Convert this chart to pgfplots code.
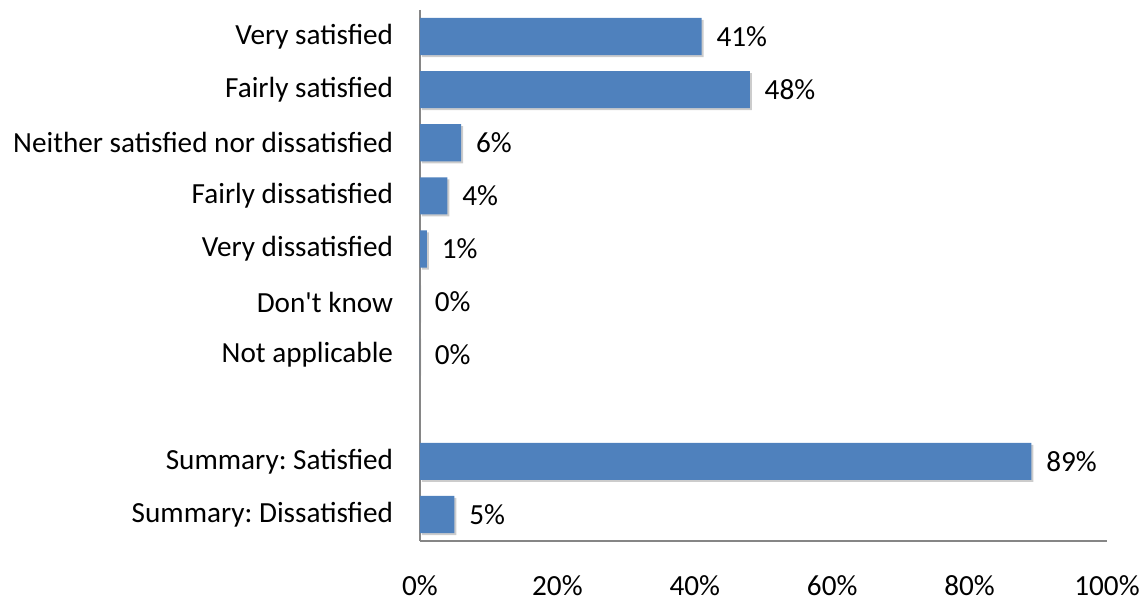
\documentclass[border=0pt]{standalone}
\usepackage{fontspec}
\setmainfont{Carlito}[Ligatures=TeXOff]
\usepackage{pgfplots}
\pgfplotsset{compat=1.18}
\usetikzlibrary{shadows}
\definecolor{barblue}{RGB}{79,129,189}
\definecolor{axisgray}{RGB}{134,134,134}
\frenchspacing

\pgfplotstableread{
pos value
0 41
1 48
2 6
3 4
4 1
5 0
6 0
8 89
9 5
}\satisfaction

\newcommand{\chartfont}{\fontsize{21.9}{26}\selectfont}

\begin{document}
\begin{tikzpicture}
\begin{axis}[
  scale only axis,
  width=515.25pt, height=398.25pt,
  xmin=0, xmax=100,
  ymin=-0.5, ymax=9.5,
  y dir=reverse,
  axis x line*=bottom,
  axis y line*=left,
  axis line style={draw=axisgray, line width=1pt},
  major tick length=0pt,
  xtick={0,20,...,100},
  xticklabel={\pgfmathprintnumber{\tick}\%},
  /pgf/number format/assume math mode=true,
  xticklabel style={font=\chartfont, inner sep=0pt, anchor=north, yshift=-26pt},
  ytick={0,1,2,3,4,5,6,8,9},
  yticklabels={Very satisfied, Fairly satisfied, Neither satisfied nor dissatisfied,
    Fairly dissatisfied, Very dissatisfied, Don't know, Not applicable,
    Summary: Satisfied, Summary: Dissatisfied},
  yticklabel style={font=\chartfont\frenchspacing, inner sep=0pt, anchor=east, xshift=-20pt},
  clip=false,
]
\addplot[
  xbar, bar width=0.7, draw=none, fill=barblue,
  drop shadow={shadow xshift=1.5pt, shadow yshift=-1.5pt, opacity=0.2, fill=black},
  nodes near coords={\pgfmathprintnumber{\pgfplotspointmeta}\%},
  point meta=explicit,
  every node near coord/.append style={font=\chartfont, anchor=west, inner sep=0pt, xshift=11pt, text=black},
] table[x=value, y=pos, meta=value] {\satisfaction};
\end{axis}
\pgfresetboundingbox
\path (current axis.south west) ++(-315pt,-45.5pt) rectangle ++(858pt,451.25pt);
\end{tikzpicture}
\end{document}
